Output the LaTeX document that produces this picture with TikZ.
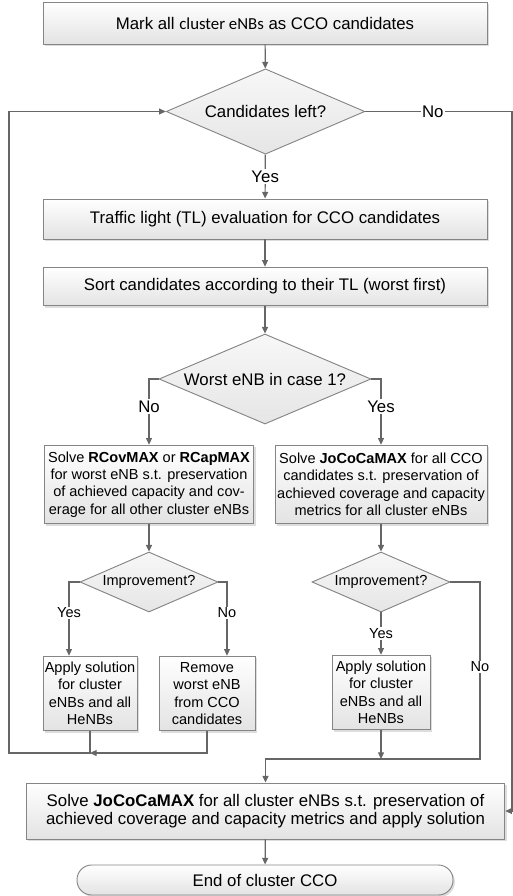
\documentclass[tikz,border=0pt]{standalone}
\usepackage{fontspec}
\setmainfont{Liberation Sans}
\newfontfamily\carl{Carlito}
\usetikzlibrary{arrows.meta,shapes.geometric,shadows}
\definecolor{boxline}{HTML}{858585}
\definecolor{flowline}{HTML}{666666}
\newcommand\flowfont{\fontsize{12.6}{13.5}\selectfont}
\newcommand\flowfontsm{\fontsize{10.9}{13.1}\selectfont}

\tikzset{
  procbox/.style={draw=boxline,line width=0.7pt,top color=white,bottom color=gray!22,
    inner sep=1pt,align=center,font=\flowfont,
    drop shadow={shadow xshift=1.4pt,shadow yshift=-1.4pt,fill=gray!45,opacity=.6}},
  smallbox/.style={procbox,font=\flowfontsm},
  decide/.style={diamond,shape aspect=2.35,draw=boxline,line width=0.7pt,top color=gray!6,bottom color=gray!20,
    inner sep=0pt,align=center,font=\flowfont},
  flow/.style={draw=flowline,line width=0.9pt,-{Triangle[length=5pt,width=4.5pt]}},
  lbl/.style={fill=white,inner sep=1pt,font=\flowfont},
  lblsm/.style={fill=white,inner sep=1pt,font=\flowfontsm}
}

\begin{document}
\begin{tikzpicture}[x=0.75pt,y=-0.75pt]
\useasboundingbox (0,0) rectangle (513,896);

% main column
\node[procbox,minimum width=333pt,minimum height=31.5pt] (mark) at (265,23) {Mark all {\carl cluster eNBs} as CCO candidates};
\node[decide,minimum width=149pt,minimum height=64pt] (cand) at (265.5,111.5) {Candidates left?};
\node[procbox,minimum width=333pt,minimum height=30pt] (tl) at (265,219) {Traffic light (TL) evaluation for CCO candidates};
\node[procbox,minimum width=333pt,minimum height=29pt] (sort) at (265,286.5) {Sort candidates according to their TL (worst first)};
\node[decide,minimum width=159pt,minimum height=67.5pt] (worst) at (265,379) {Worst eNB in case 1?};

% two branches
\node[smallbox,minimum width=157pt,minimum height=59pt] (solveL) at (149,484.5)
  {Solve \textbf{RCovMAX} or \textbf{RCapMAX}\\for worst eNB s.t. preservation\\of achieved capacity and cov-\\erage for all other cluster eNBs};
\node[smallbox,minimum width=159pt,minimum height=59pt] (solveR) at (381,484.5)
  {Solve \textbf{JoCoCaMAX} for all CCO\\candidates s.t. preservation of\\achieved coverage and capacity\\metrics for all cluster eNBs};
\node[decide,font=\flowfontsm,minimum width=103.5pt,minimum height=45pt] (impL) at (149,582) {Improvement?};
\node[decide,font=\flowfontsm,minimum width=103.5pt,minimum height=45pt] (impR) at (381,582) {Improvement?};
\node[smallbox,minimum width=70.5pt,minimum height=56pt] (applyL) at (90,693.5) {Apply solution\\for cluster\\eNBs and all\\HeNBs};
\node[smallbox,minimum width=72pt,minimum height=56pt] (remove) at (207,693.5) {Remove\\worst eNB\\from CCO\\candidates};
\node[smallbox,minimum width=73.5pt,minimum height=56pt] (applyR) at (381,692.5) {Apply solution\\for cluster\\eNBs and all\\HeNBs};

% end
\node[procbox,minimum width=359pt,minimum height=42pt] (final) at (265.5,811)
  {Solve \textbf{JoCoCaMAX} for all cluster eNBs s.t. preservation of\\achieved coverage and capacity metrics and apply solution};
\node[procbox,drop shadow={opacity=0},rounded corners=11pt,minimum width=282pt,minimum height=22.5pt] (stop) at (265,880) {End of cluster CCO};

\coordinate (loopj) at (90,753);
\coordinate (loopc) at (9,753);
\coordinate (mergec) at (480,759);
\coordinate (noc) at (512,111.5);

% connectors
\draw[flow] (mark) -- (cand);
\draw[flow] (cand) -- node[lbl]{Yes} (tl);
\draw[flow] (cand.east) -- node[lbl,pos=0.46]{No} (noc) |- (final.east);
\draw[flow] (tl) -- (sort);
\draw[flow] (sort) -- (worst);
\draw[flow] (worst.west) -| node[lbl,pos=0.71]{No} (solveL.north);
\draw[flow] (worst.east) -| node[lbl,pos=0.71]{Yes} (solveR.north);
\draw[flow] (solveL) -- (impL);
\draw[flow] (solveR) -- (impR);
\draw[flow] (impL.west) -| node[lblsm,pos=0.71]{Yes} ([xshift=-15.75pt]applyL.north);
\draw[flow] (impL.east) -| node[lblsm,pos=0.71]{No} ([xshift=15pt]remove.north);
\draw[flow] (remove.south) |- (loopj);
\draw[flow] (applyL.south) |- (loopc) |- (cand.west);
\draw[flow] (impR) -- node[lblsm]{Yes} (applyR);
\draw[flow] (applyR.south) -- (applyR.south |- mergec);
\draw[flow] (impR.east) -| node[lblsm,pos=0.74]{No} (mergec) -| (final.north);
\draw[flow] (final) -- (stop);
\end{tikzpicture}
\end{document}
